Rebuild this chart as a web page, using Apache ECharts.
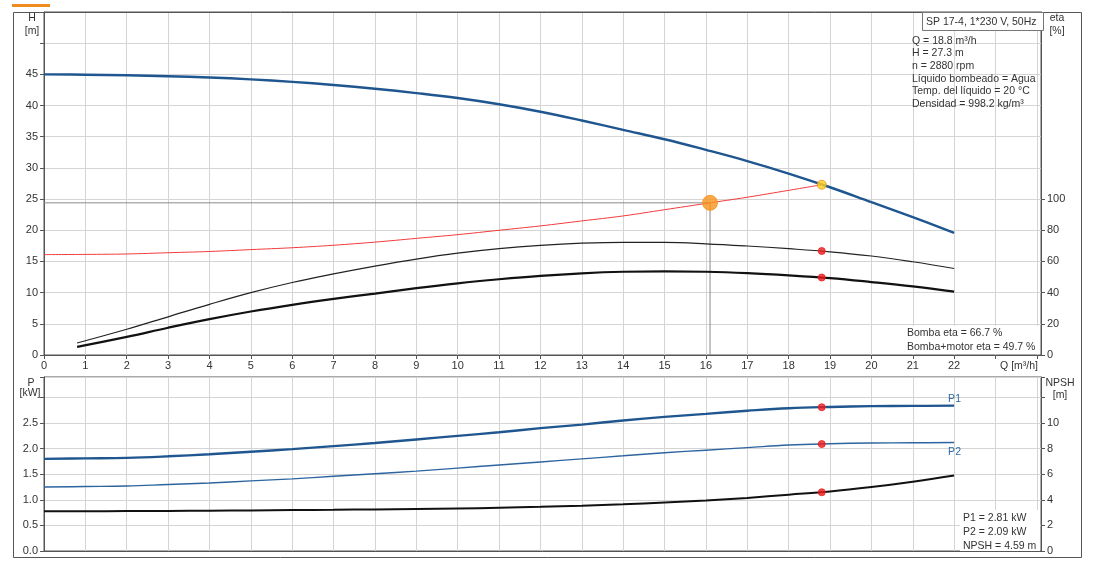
<!DOCTYPE html>
<html>
<head>
<meta charset="utf-8">
<script src="https://cdn.jsdelivr.net/npm/echarts@6/dist/echarts.min.js"></script>
<style>
  html, body { margin: 0; padding: 0; background: #fff; }
  #chart { width: 1094px; height: 565px; }
</style>
</head>
<body>
<div id="chart"></div>
<script>
// caudal Q [m3/h] y curvas
var qFull = [0, 1, 2, 3, 4, 5, 6, 7, 8, 9, 10, 11, 12, 13, 14, 15, 16, 17, 18, 19, 20, 21, 22];
var hVals = [45, 44.95, 44.85, 44.7, 44.5, 44.2, 43.8, 43.3, 42.7, 42.0, 41.2, 40.2, 39.0, 37.6, 36.1, 34.6, 32.9, 31.1, 29.1, 26.9, 24.5, 22.1, 19.6];

var qSys = [0, 1, 2, 3, 4, 5, 6, 7, 8, 9, 10, 11, 12, 13, 14, 15, 16, 17, 18, 18.8];
var sysVals = [16.1, 16.13, 16.2, 16.4, 16.6, 16.9, 17.2, 17.6, 18.1, 18.7, 19.3, 20.0, 20.7, 21.5, 22.3, 23.3, 24.3, 25.3, 26.4, 27.3];

var qEta = [0.8, 2, 3, 4, 5, 6, 7, 8, 9, 10, 11, 12, 13, 14, 15, 16, 17, 18, 19, 20, 21, 22];
var etaBomba = [7.7, 16.5, 24.5, 32.5, 40, 46.5, 52, 57, 61.5, 65.3, 68.2, 70.3, 71.7, 72.3, 72.2, 71.3, 69.9, 68.2, 66.2, 63.5, 59.8, 55.5];
var etaTotal = [5.2, 11.6, 17.5, 23, 27.9, 32.2, 36, 39.4, 42.9, 46, 48.6, 50.8, 52.4, 53.4, 53.7, 53.4, 52.5, 51.1, 49.3, 46.8, 44, 40.6];

var p1Vals = [1.80, 1.81, 1.82, 1.85, 1.89, 1.94, 1.99, 2.05, 2.11, 2.18, 2.25, 2.32, 2.40, 2.47, 2.55, 2.62, 2.68, 2.74, 2.79, 2.815, 2.83, 2.835, 2.84];
var p2Vals = [1.25, 1.26, 1.27, 1.30, 1.33, 1.37, 1.41, 1.46, 1.51, 1.56, 1.62, 1.68, 1.74, 1.80, 1.86, 1.92, 1.97, 2.02, 2.07, 2.095, 2.11, 2.115, 2.12];
var npshVals = [3.1, 3.11, 3.12, 3.13, 3.15, 3.17, 3.2, 3.22, 3.25, 3.28, 3.32, 3.38, 3.45, 3.54, 3.65, 3.79, 3.95, 4.15, 4.4, 4.65, 5.0, 5.42, 5.9];

// ticks con etiqueta
var etaTicks = [0, 20, 40, 60, 80, 100];

// punto de trabajo
var qDuty = 18.8, hDuty = 27.3;
var dutyEta = [66.7, 49.7];
var dutyP = [2.81, 2.09];
var dutyNpsh = 4.59;
var qOp = 16.1, hOp = 24.4;

var infoLines = [
    'Q = 18.8 m³/h',
    'H = 27.3 m',
    'n = 2880 rpm',
    'Líquido bombeado = Agua',
    'Temp. del líquido = 20 °C',
    'Densidad = 998.2 kg/m³'
];

function pairs(xs, ys) {
    return xs.map(function (x, i) { return [x, ys[i]]; });
}

var FONT = '"Liberation Sans", Arial, sans-serif';
var gridColor = '#d4d4d4';
var blue = '#1f568f';

function txt(x, y, text, align, size) {
    return {
        type: 'text', x: x, y: y, z: 100,
        style: { text: text, fill: '#333', font: (size || 10.5) + 'px ' + FONT, textAlign: align || 'left', textVerticalAlign: 'middle' }
    };
}

var chart = echarts.init(document.getElementById('chart'));

var xCommon = {
    type: 'value', min: 0, max: 24.1, interval: 1,
    axisLine: { lineStyle: { color: '#555' } },
    axisTick: { show: true, length: 4, lineStyle: { color: '#555' } },
    splitLine: { show: true, lineStyle: { color: gridColor } }
};

var graphics = [
    { type: 'rect', z: 100, shape: { x: 12, y: 4, width: 38, height: 3 }, style: { fill: '#f08c1e' } },
    { type: 'rect', z: 100, shape: { x: 13.5, y: 12.5, width: 1068, height: 545 }, style: { fill: 'none', stroke: '#555', lineWidth: 1 } },
    txt(32, 18, 'H', 'center'), txt(32, 31, '[m]', 'center'),
    txt(1057, 18, 'eta', 'center'), txt(1057, 31, '[%]', 'center'),
    txt(1038, 366, 'Q [m³/h]', 'right'),
    txt(31, 383, 'P', 'center'), txt(30, 393, '[kW]', 'center'),
    txt(1060, 383, 'NPSH', 'center'), txt(1060, 395, '[m]', 'center'),
    { type: 'rect', z: 100, shape: { x: 922.5, y: 12.5, width: 121, height: 18 }, style: { fill: '#fff', stroke: '#777', lineWidth: 1 } },
    txt(926, 22, 'SP 17-4, 1*230 V, 50Hz'),
    { type: 'rect', z: 100, shape: { x: 904, y: 326, width: 136, height: 28 }, style: { fill: '#fff' } },
    txt(907, 333, 'Bomba eta = ' + dutyEta[0] + ' %'),
    txt(907, 347, 'Bomba+motor eta = ' + dutyEta[1] + ' %'),
    { type: 'rect', z: 100, shape: { x: 960, y: 510, width: 80, height: 41 }, style: { fill: '#fff' } },
    txt(963, 518, 'P1 = ' + dutyP[0] + ' kW'),
    txt(963, 532, 'P2 = ' + dutyP[1] + ' kW'),
    txt(963, 546, 'NPSH = ' + dutyNpsh + ' m')
];
infoLines.forEach(function (s, i) {
    graphics.push(txt(912, 41 + i * 12.6, s));
});

var dot = function (color, size, border) {
    return { symbol: 'circle', symbolSize: size, itemStyle: { color: color, borderColor: border || color, borderWidth: 1 } };
};

var curve = function (extra) {
    return Object.assign({ type: 'line', smooth: 0.4, symbol: 'none' }, extra);
};

var option = {
    animation: false,
    textStyle: { fontFamily: FONT },
    grid: [
        { left: 44, top: 12, width: 997, height: 343, show: true, borderColor: '#555', borderWidth: 1 },
        { left: 44, top: 377, width: 997, height: 174, show: true, borderColor: '#555', borderWidth: 1 }
    ],
    xAxis: [
        Object.assign({}, xCommon, {
            gridIndex: 0,
            axisLabel: {
                color: '#333', fontSize: 11, margin: 5, showMaxLabel: false,
                formatter: function (v) { return v <= 22 && Math.abs(v - Math.round(v)) < 1e-6 ? String(v) : ''; }
            }
        }),
        Object.assign({}, xCommon, {
            gridIndex: 1, axisTick: { show: false }, axisLabel: { show: false }
        })
    ],
    yAxis: [
        {
            type: 'value', gridIndex: 0, min: 0, max: 55, interval: 5,
            axisLine: { show: true, lineStyle: { color: '#555' } },
            axisTick: { show: true, length: 4 },
            axisLabel: { color: '#333', fontSize: 11, margin: 6, formatter: function (v) { return v <= 45 ? v : ''; } },
            splitLine: { lineStyle: { color: gridColor } }
        },
        {
            type: 'value', gridIndex: 0, position: 'right', min: 0, max: 220, interval: 20,
            axisLine: { show: true, lineStyle: { color: '#555' } },
            axisTick: { show: true, length: 4, customValues: etaTicks },
            axisLabel: { color: '#333', fontSize: 11, margin: 6, customValues: etaTicks },
            splitLine: { show: false }
        },
        {
            type: 'value', gridIndex: 1, min: 0, max: 3.4, interval: 0.5,
            axisLine: { show: true, lineStyle: { color: '#555' } },
            axisTick: { show: true, length: 4 },
            axisLabel: { color: '#333', fontSize: 11, margin: 6, formatter: function (v) { return v <= 2.5 ? v.toFixed(1) : ''; } },
            splitLine: { lineStyle: { color: gridColor } }
        },
        {
            type: 'value', gridIndex: 1, position: 'right', min: 0, max: 13.6, interval: 2,
            axisLine: { show: true, lineStyle: { color: '#555' } },
            axisTick: { show: true, length: 4 },
            axisLabel: { color: '#333', fontSize: 11, margin: 6, formatter: function (v) { return v <= 10 ? v : ''; } },
            splitLine: { show: false }
        }
    ],
    graphic: graphics,
    series: [
        {
            name: 'op-guide', type: 'line', xAxisIndex: 0, yAxisIndex: 0, symbol: 'none',
            lineStyle: { color: '#8a8a8a', width: 1 },
            data: [[0, hOp], [qOp, hOp], [qOp, 0]]
        },
        curve({ name: 'H', xAxisIndex: 0, yAxisIndex: 0, lineStyle: { color: blue, width: 2.4 }, data: pairs(qFull, hVals) }),
        curve({ name: 'system', xAxisIndex: 0, yAxisIndex: 0, lineStyle: { color: '#f23a3a', width: 1 }, data: pairs(qSys, sysVals) }),
        curve({ name: 'eta bomba', xAxisIndex: 0, yAxisIndex: 1, lineStyle: { color: '#222', width: 1.2 }, data: pairs(qEta, etaBomba) }),
        curve({ name: 'eta total', xAxisIndex: 0, yAxisIndex: 1, lineStyle: { color: '#111', width: 2.2 }, data: pairs(qEta, etaTotal) }),
        Object.assign({ type: 'scatter', xAxisIndex: 0, yAxisIndex: 1, z: 5,
            data: [[qDuty, dutyEta[0]], [qDuty, dutyEta[1]]] }, dot('#ee1c1c', 7)),
        Object.assign({ type: 'scatter', xAxisIndex: 0, yAxisIndex: 0, z: 5,
            data: [[qDuty, hDuty]] }, dot('#ffd21f', 9, '#f08c1e')),
        Object.assign({ type: 'scatter', xAxisIndex: 0, yAxisIndex: 0, z: 5,
            data: [[qOp, hOp]] }, dot('#f7941d', 15)),
        curve({
            name: 'P1', xAxisIndex: 1, yAxisIndex: 2, lineStyle: { color: blue, width: 2.4 },
            endLabel: { show: true, formatter: 'P1', color: '#2e6aa8', fontSize: 10.5, offset: [-14, -7] },
            data: pairs(qFull, p1Vals)
        }),
        curve({
            name: 'P2', xAxisIndex: 1, yAxisIndex: 2, lineStyle: { color: '#2d64a0', width: 1.4 },
            endLabel: { show: true, formatter: 'P2', color: '#2e6aa8', fontSize: 10.5, offset: [-14, 10] },
            data: pairs(qFull, p2Vals)
        }),
        curve({ name: 'NPSH', xAxisIndex: 1, yAxisIndex: 3, lineStyle: { color: '#111', width: 2 }, data: pairs(qFull, npshVals) }),
        Object.assign({ type: 'scatter', xAxisIndex: 1, yAxisIndex: 2, z: 5,
            data: [[qDuty, dutyP[0]], [qDuty, dutyP[1]]] }, dot('#ee1c1c', 7)),
        Object.assign({ type: 'scatter', xAxisIndex: 1, yAxisIndex: 3, z: 5,
            data: [[qDuty, dutyNpsh]] }, dot('#ee1c1c', 7))
    ]
};

chart.setOption(option);
</script>
</body>
</html>
